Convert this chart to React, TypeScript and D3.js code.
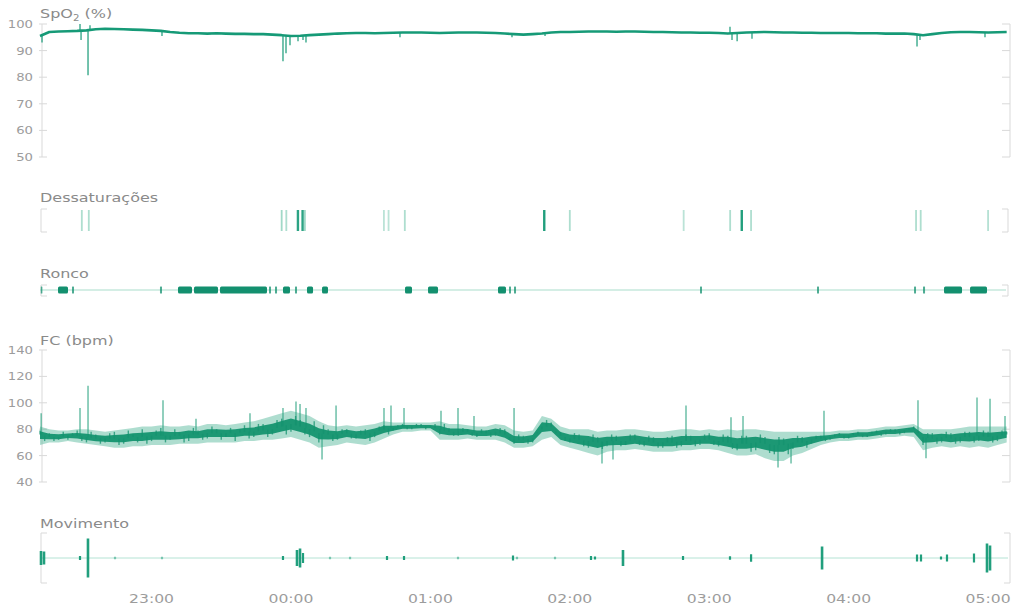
import React from 'react';
import * as d3 from 'd3';

// ---------- DATA ----------
const T0 = '22:12';
const T1 = '05:09';
const STEP_MIN = 4; // sampling interval of the trend arrays (minutes)
const RAW_STEP_MIN = 2; // sampling interval of the raw heart-rate readings (minutes)

const timeTicks = ['23:00', '00:00', '01:00', '02:00', '03:00', '04:00', '05:00'];
const spo2Ticks = [50, 60, 70, 80, 90, 100];
const fcTicks = [40, 60, 80, 100, 120, 140];

// SpO2 trend (%), one value every 4 min from 22:12
const spo2Mean = [
  95.5, 97, 97.2, 97.3, 97.4, 97.6, 98, 98.2, 98.1, 98,
  97.9, 97.8, 97.6, 97.4, 97, 96.7, 96.5, 96.5, 96.4, 96.5,
  96.4, 96.3, 96.3, 96.2, 96.2, 96, 95.8, 95.5, 95.6, 95.8,
  96, 96.2, 96.4, 96.5, 96.6, 96.6, 96.5, 96.6, 96.7, 96.8,
  96.8, 96.8, 96.7, 96.6, 96.7, 96.8, 96.8, 96.8, 96.7, 96.6,
  96.4, 96.2, 96.0, 96.2, 96.4, 96.8, 97, 97, 97.1, 97.2,
  97.2, 97.2, 97.1, 97.2, 97.2, 97.1, 97, 97, 96.9, 96.8,
  96.8, 96.7, 96.7, 96.6, 96.4, 96.6, 96.8, 96.9, 97, 96.9,
  96.8, 96.8, 96.7, 96.7, 96.6, 96.6, 96.6, 96.6, 96.5, 96.5,
  96.5, 96.4, 96.4, 96.4, 96.2, 95.8, 96.2, 96.6, 96.9, 97,
  97, 96.9, 96.8, 96.9, 97,
];

// SpO2 excursions [time, value]
const spo2Spikes: [string, number][] = [
  ['22:12:52', 93], ['22:29:13', 100], ['22:29:40', 94], ['22:32:40', 80.7],
  ['22:33:31', 99.5], ['23:04:30', 95.5], ['23:56:34', 86], ['23:57:52', 89],
  ['23:59:35', 92], ['00:03:02', 93.5], ['00:05:11', 94], ['00:06:28', 93],
  ['00:46:55', 95], ['01:35:07', 95], ['01:49:20', 95.5], ['03:08:56', 99],
  ['03:09:48', 94], ['03:12:00', 93.5], ['03:18:24', 94.5], ['04:29:25', 91.5],
  ['04:30:42', 94], ['04:58:40', 95],
];

// Desaturation events [time, intensity]
const desatEvents: [string, number][] = [
  ['22:30', 0.6], ['22:33', 0.6], ['23:56', 0.7], ['23:58', 0.6], ['00:03', 0.9],
  ['00:05', 0.9], ['00:06', 0.7], ['00:40', 0.5], ['00:42', 0.5], ['00:49', 0.6],
  ['01:49', 0.95], ['02:00', 0.6], ['02:49', 0.5], ['03:09', 0.6], ['03:14', 0.95],
  ['03:18', 0.6], ['04:29', 0.6], ['04:31', 0.6], ['05:00', 0.55],
];

// Snoring intervals [start, end]
const roncoIntervals: [string, string][] = [
  ['22:12:20', '22:13:00'], ['22:19:45', '22:24:03'], ['22:25:46', '22:26:38'],
  ['23:03:38', '23:04:30'], ['23:11:23', '23:17:25'], ['23:18:16', '23:28:36'],
  ['23:29:28', '23:49:41'], ['23:50:33', '23:51:25'], ['23:53:08', '23:54:00'],
  ['23:56:34', '23:59:35'], ['00:01:44', '00:02:36'], ['00:06:54', '00:09:30'],
  ['00:13:22', '00:15:56'], ['00:49:05', '00:52:05'], ['00:58:59', '01:03:17'],
  ['01:29:06', '01:32:32'], ['01:33:50', '01:34:41'], ['01:35:59', '01:36:51'],
  ['02:56:02', '02:56:53'], ['03:46:23', '03:47:14'], ['04:28:08', '04:28:59'],
  ['04:32:00', '04:32:52'], ['04:41:02', '04:48:47'], ['04:52:14', '04:59:32'],
];

// Heart rate (bpm), one value every 4 min from 22:12: middle, low and high of the trace
const fcMid = [
  76, 74, 74, 75, 75, 74, 73, 73, 73, 73,
  74, 74, 75, 75, 75, 75, 76, 76, 77, 77,
  77, 77, 78, 78, 79, 80, 82, 84, 82, 80,
  77, 76, 76, 77, 76, 76, 78, 80, 81, 82,
  82, 82, 82, 80, 78, 78, 78, 77, 77, 78,
  76, 72, 72, 73, 82, 82, 75, 73, 72, 71,
  70, 71, 71, 71, 72, 71, 70, 70, 70, 71,
  71, 72, 72, 71, 70, 69, 69, 70, 69, 68,
  68, 70, 70, 72, 73, 74, 75, 75, 76, 76,
  77, 78, 78, 79, 80, 74, 73, 74, 73, 74,
  74, 75, 74, 75, 76,
];
const fcLo = [
  68, 70, 70, 71, 70, 69, 68, 67, 66, 66,
  67, 67, 68, 68, 68, 69, 69, 69, 70, 70,
  70, 70, 71, 71, 72, 72, 73, 74, 72, 70,
  66, 67, 68, 70, 69, 68, 70, 73, 76, 78,
  78, 79, 79, 72, 72, 72, 73, 72, 72, 72,
  70, 66, 66, 67, 72, 74, 68, 66, 64, 62,
  60, 63, 64, 64, 65, 64, 63, 63, 63, 64,
  64, 65, 65, 64, 62, 60, 60, 61, 58, 56,
  56, 60, 62, 65, 68, 70, 71, 71, 72, 72,
  73, 74, 74, 75, 74, 64, 66, 67, 66, 67,
  66, 67, 66, 68, 70,
];
const fcHi = [
  82, 80, 79, 79, 80, 80, 79, 78, 79, 80,
  81, 82, 82, 83, 82, 82, 83, 82, 84, 84,
  83, 84, 85, 86, 88, 90, 92, 94, 92, 90,
  86, 83, 82, 83, 82, 83, 84, 86, 85, 85,
  85, 85, 85, 86, 84, 84, 83, 82, 82, 84,
  83, 79, 78, 79, 90, 88, 82, 80, 80, 80,
  78, 79, 79, 80, 80, 79, 78, 78, 79, 80,
  80, 79, 80, 79, 80, 79, 80, 80, 79, 78,
  78, 78, 78, 78, 78, 78, 79, 79, 80, 80,
  81, 82, 82, 83, 84, 80, 80, 80, 80, 81,
  82, 82, 82, 82, 82,
];

// Raw heart-rate readings (bpm), one every 2 min from 22:12
const fcRaw = [
  79, 71, 77, 71, 72, 78, 72, 77, 79, 71, 70, 78, 76, 69, 70, 77, 78, 68, 69, 79,
  76, 70, 80, 69, 71, 79, 81, 70, 72, 80, 78, 70, 71, 81, 79, 72, 73, 82, 80, 72,
  74, 81, 71, 80, 83, 73, 74, 84, 84, 74, 76, 87, 88, 76, 78, 90, 87, 76, 74, 86,
  70, 83, 80, 71, 72, 80, 80, 73, 73, 79, 80, 71, 74, 82, 83, 76, 79, 83, 84, 80,
  80, 84, 84, 80, 81, 84, 76, 84, 81, 75, 75, 81, 80, 75, 74, 80, 79, 74, 75, 81,
  80, 72, 69, 76, 75, 69, 70, 77, 80, 87, 85, 77, 78, 71, 70, 77, 76, 67, 66, 76,
  74, 65, 67, 76, 75, 67, 68, 76, 76, 68, 67, 75, 74, 66, 66, 74, 75, 66, 67, 76,
  75, 67, 68, 76, 77, 68, 67, 76, 75, 65, 64, 75, 75, 63, 64, 76, 74, 62, 61, 74,
  73, 61, 65, 75, 74, 66, 69, 75, 75, 71, 72, 76, 77, 73, 73, 77, 78, 74, 74, 78,
  79, 75, 76, 80, 80, 76, 77, 81, 82, 78, 68, 77, 77, 69, 70, 78, 77, 69, 70, 78,
  78, 70, 71, 79, 78, 70, 71, 79, 78,
];

// Heart rate spikes [time, value]
const fcSpikes: [string, number][] = [
  ['22:12:30', 92], ['22:29:13', 96], ['22:32:40', 113], ['23:04:56', 102],
  ['23:19:08', 88], ['23:42:22', 92], ['23:56:34', 96], ['00:02:10', 101],
  ['00:03:54', 99], ['00:06:28', 96], ['00:13:22', 57], ['00:19:24', 98],
  ['00:40:02', 96], ['00:43:03', 98], ['00:48:39', 96], ['01:04:34', 94],
  ['01:11:53', 96], ['01:18:46', 90], ['01:36:00', 96], ['02:13:51', 54],
  ['02:18:35', 57], ['02:50:00', 98], ['03:09:22', 89], ['03:14:32', 90],
  ['03:29:36', 51], ['03:35:12', 54], ['03:49:23', 94], ['04:29:50', 102],
  ['04:33:17', 58], ['04:55:14', 104], ['05:00:50', 103], ['05:07:17', 90],
];

// Movement events [time, relative amplitude]
const moveEvents: [string, number][] = [
  ['22:12:26', 0.28], ['22:13:43', 0.26], ['22:29:13', 0.08], ['22:32:39', 0.78],
  ['22:44:17', 0.03], ['23:04:30', 0.03], ['23:56:34', 0.08], ['00:02:36', 0.32],
  ['00:03:54', 0.38], ['00:05:11', 0.2], ['00:16:48', 0.03], ['00:25:25', 0.03],
  ['00:41:20', 0.08], ['00:48:39', 0.08], ['01:11:53', 0.04], ['01:35:33', 0.1],
  ['01:37:16', 0.05], ['01:53:38', 0.03], ['02:09:07', 0.08], ['02:10:50', 0.06],
  ['02:22:53', 0.32], ['02:48:43', 0.08], ['03:08:56', 0.07], ['03:18:00', 0.15],
  ['03:48:33', 0.46], ['04:29:25', 0.14], ['04:31:08', 0.14], ['04:39:44', 0.06],
  ['04:42:19', 0.14], ['04:53:56', 0.18], ['04:59:32', 0.58], ['05:00:50', 0.5],
];

// ---------- HELPERS ----------
function parseT(s: string): Date {
  const p = s.split(':').map(Number);
  const day = p[0] >= 12 ? 1 : 2;
  return new Date(2024, 0, day, p[0], p[1], p[2] || 0);
}

const GREEN = '#169a77';
const GREEN_LIGHT = '#79c9b0';
const AXIS = '#d9d9d9';
const LABEL = '#9c9c9c';
const TITLE = '#8a8a8a';
const FONT = 'DejaVu Sans, sans-serif';

function Txt({ x, y, anchor = 'start', size = 12, fill = LABEL, sx = 1.24, children }: any) {
  return (
    <text
      transform={`translate(${x},${y}) scale(${sx},1)`}
      textAnchor={anchor}
      fontSize={size}
      fill={fill}
      fontFamily={FONT}
    >
      {children}
    </text>
  );
}

function Bracket({ x, y0, y1, dir }: { x: number; y0: number; y1: number; dir: number }) {
  return (
    <path
      d={`M${x + dir * 6},${y0} H${x} V${y1} H${x + dir * 6}`}
      fill="none"
      stroke={AXIS}
      strokeWidth={1}
    />
  );
}

export default function App() {
  const start = parseT(T0);
  const t0 = start.getTime();
  const x = d3.scaleTime().domain([start, parseT(T1)]).range([40, 1009]);
  const sampleT = (i: number) => new Date(t0 + i * STEP_MIN * 60000);
  const rawT = (i: number) => new Date(t0 + i * RAW_STEP_MIN * 60000);
  const ySp = d3.scaleLinear().domain([50, 100]).range([157, 24]);
  const yFc = d3.scaleLinear().domain([40, 140]).range([482, 350]);
  const yMv = d3.scaleLinear().domain([-1, 1]).range([583, 533]);
  const yDs = d3.scaleLinear().domain([0, 1]).range([231, 210]);
  const RONCO_Y = 290;
  const LEFT_AX = 42;
  const RIGHT_AX = 1010;

  const valueAt = (arr: number[], d: Date) => {
    const f = (d.getTime() - t0) / (STEP_MIN * 60000);
    const i = Math.max(0, Math.min(arr.length - 2, Math.floor(f)));
    const r = Math.max(0, Math.min(1, f - i));
    return arr[i] * (1 - r) + arr[i + 1] * r;
  };

  const spPath = d3
    .line<number>()
    .x((_, i) => x(sampleT(i)))
    .y((d) => ySp(d))(spo2Mean) as string;

  const fcOuter = d3
    .area<number>()
    .x((_, i) => x(sampleT(i)))
    .y0((_, i) => yFc(fcLo[i]))
    .y1((_, i) => yFc(fcHi[i]))(fcMid) as string;
  const fcInner = d3
    .area<number>()
    .x((_, i) => x(sampleT(i)))
    .y0((d, i) => yFc(d - (d - fcLo[i]) * 0.42))
    .y1((d, i) => yFc(d + (fcHi[i] - d) * 0.42))(fcMid) as string;

  const yAxis = (scale: d3.ScaleLinear<number, number>, ticks: number[]) => (
    <g>
      <line x1={LEFT_AX} x2={LEFT_AX} y1={scale(ticks[ticks.length - 1])} y2={scale(ticks[0])} stroke={AXIS} />
      <line x1={RIGHT_AX} x2={RIGHT_AX} y1={scale(ticks[ticks.length - 1])} y2={scale(ticks[0])} stroke={AXIS} />
      {ticks.map((t) => (
        <g key={t}>
          <line x1={LEFT_AX - 3} x2={LEFT_AX + 5} y1={scale(t)} y2={scale(t)} stroke={AXIS} />
          <line x1={RIGHT_AX - 8} x2={RIGHT_AX} y1={scale(t)} y2={scale(t)} stroke={AXIS} />
          <Txt x={33} y={scale(t) + 4} anchor="end" size={11} sx={1.2}>
            {t}
          </Txt>
        </g>
      ))}
    </g>
  );

  return (
    <svg
      width={1014}
      height={607}
      style={{ position: 'absolute', left: 0, top: 0, background: '#fff' }}
    >
      {/* ---------- SpO2 ---------- */}
      <Txt x={40} y={18} size={12.5} fill={TITLE} sx={1.28}>
        SpO<tspan fontSize={8} dy={3}>2</tspan>
        <tspan dy={-3}> (%)</tspan>
      </Txt>
      {yAxis(ySp, spo2Ticks)}
      {spo2Spikes.map(([t, v], i) => {
        const d = parseT(t);
        return (
          <line
            key={i}
            x1={x(d)}
            x2={x(d)}
            y1={ySp(valueAt(spo2Mean, d))}
            y2={ySp(v)}
            stroke={GREEN}
            strokeWidth={1.4}
            opacity={0.85}
          />
        );
      })}
      <path d={spPath} fill="none" stroke={GREEN} strokeWidth={2.6} strokeLinejoin="round" />

      {/* ---------- Dessaturações ---------- */}
      <Txt x={40} y={202} size={12.5} fill={TITLE} sx={1.28}>
        Dessaturações
      </Txt>
      <Bracket x={41} y0={yDs(1) - 1} y1={yDs(0) + 1} dir={1} />
      <Bracket x={1008} y0={yDs(1) - 1} y1={yDs(0) + 1} dir={-1} />
      {desatEvents.map(([t, w], i) => (
        <line
          key={i}
          x1={x(parseT(t))}
          x2={x(parseT(t))}
          y1={yDs(0)}
          y2={yDs(1)}
          stroke={w > 0.8 ? GREEN : GREEN_LIGHT}
          strokeWidth={w > 0.8 ? 2.4 : 1.8}
          opacity={w}
        />
      ))}

      {/* ---------- Ronco ---------- */}
      <Txt x={40} y={278} size={12.5} fill={TITLE} sx={1.28}>
        Ronco
      </Txt>
      <Bracket x={41} y0={RONCO_Y - 5} y1={RONCO_Y + 6} dir={1} />
      <Bracket x={1008} y0={RONCO_Y - 5} y1={RONCO_Y + 6} dir={-1} />
      <line x1={x(start)} x2={1006} y1={RONCO_Y} y2={RONCO_Y} stroke="#a9ddcc" strokeWidth={1.2} />
      {roncoIntervals.map(([a, b], i) => {
        const xa = x(parseT(a));
        const xb = x(parseT(b));
        const w = Math.max(1.6, xb - xa);
        return (
          <rect
            key={i}
            x={xa}
            y={RONCO_Y - 3.5}
            width={w}
            height={7}
            rx={w > 4 ? 1.5 : 0.5}
            fill="#13906f"
            opacity={w > 4 ? 1 : 0.75}
          />
        );
      })}

      {/* ---------- FC ---------- */}
      <Txt x={40} y={345} size={12.5} fill={TITLE} sx={1.28}>
        FC (bpm)
      </Txt>
      {yAxis(yFc, fcTicks)}
      <path d={fcOuter} fill="#3fae8c" opacity={0.42} />
      {fcSpikes.map(([t, v], i) => {
        const d = parseT(t);
        return (
          <line
            key={i}
            x1={x(d)}
            x2={x(d)}
            y1={yFc(valueAt(fcMid, d))}
            y2={yFc(v)}
            stroke="#2fa583"
            strokeWidth={1.4}
            opacity={0.75}
          />
        );
      })}
      <path d={fcInner} fill="#14936f" opacity={0.95} />
      {fcRaw.map((v, i) => {
        const d = rawT(i);
        return (
          <line
            key={i}
            x1={x(d)}
            x2={x(d)}
            y1={yFc(valueAt(fcMid, d))}
            y2={yFc(v)}
            stroke="#14936f"
            strokeWidth={1.4}
            opacity={0.75}
          />
        );
      })}

      {/* ---------- Movimento ---------- */}
      <Txt x={40} y={528} size={12.5} fill={TITLE} sx={1.28}>
        Movimento
      </Txt>
      <Bracket x={41} y0={yMv(1)} y1={yMv(-1)} dir={1} />
      <Bracket x={1010} y0={yMv(1)} y1={yMv(-1)} dir={-1} />
      <line x1={x(start)} x2={1008} y1={yMv(0)} y2={yMv(0)} stroke="#b4e3d4" strokeWidth={1} />
      {moveEvents.map(([t, a], i) => (
        <line
          key={i}
          x1={x(parseT(t))}
          x2={x(parseT(t))}
          y1={yMv(-Math.max(a, 0.05))}
          y2={yMv(Math.max(a, 0.05))}
          stroke={GREEN}
          strokeWidth={a > 0.2 ? 2.6 : 2.2}
          opacity={a > 0.05 ? 0.95 : 0.5}
        />
      ))}

      {/* ---------- time axis ---------- */}
      {timeTicks.map((t) => (
        <Txt key={t} x={x(parseT(t))} y={603} anchor="middle" size={12.5} sx={1.25}>
          {t}
        </Txt>
      ))}
    </svg>
  );
}
